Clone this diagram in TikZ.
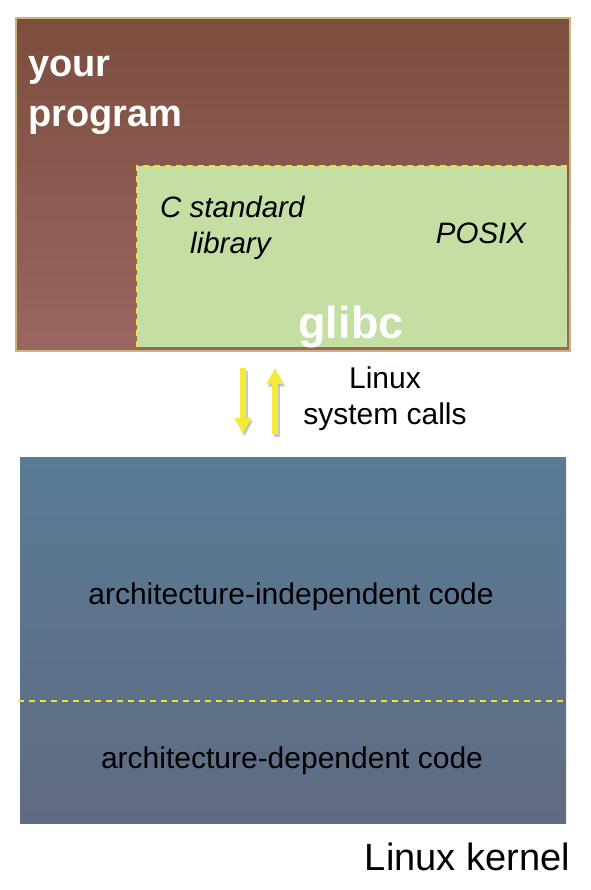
\documentclass[tikz,border=0pt]{standalone}
\usepackage{fontspec}
\setmainfont{Liberation Sans}
\usetikzlibrary{arrows.meta}
\definecolor{progtop}{HTML}{7C4E3E}
\definecolor{progbot}{HTML}{9A6661}
\definecolor{progedge}{HTML}{C9B67A}
\definecolor{glibcfill}{HTML}{C4DEA4}
\definecolor{kerntop}{HTML}{5A7B95}
\definecolor{kernbot}{HTML}{5F6B82}
\definecolor{dashyellow}{HTML}{F2E236}
\definecolor{arrowyellow}{HTML}{F4EA3A}
\begin{document}
\begin{tikzpicture}[x=1pt,y=-1pt,
  box/.style={anchor=north west,inner sep=0pt,outer sep=0pt},
  whitebold/.style={text=white,font=\bfseries\fontsize{38}{50}\selectfont,align=left,inner sep=0pt},
  itlabel/.style={font=\itshape\fontsize{29.5}{36}\selectfont,align=left,inner sep=0pt},
  plainlabel/.style={font=\fontsize{30}{36}\selectfont,align=center,inner sep=0pt},
  ydash/.style={draw=dashyellow,line width=2.8pt,dash pattern=on 6pt off 5pt},
  callarrow/.style={draw=arrowyellow,line width=6pt,-{Triangle[width=16pt,length=16pt]},arrowyellow},
  arrowshadow/.style={draw=black!70,line width=6pt,-{Triangle[width=16pt,length=16pt]},black!70,opacity=0.3}
]
\useasboundingbox (0,0) rectangle (590,890);
% your program box
\node[box,draw=progedge,line width=2pt,shading=axis,top color=progtop,bottom color=progbot,
  minimum width=554pt,minimum height=333pt] (prog) at (16,18) {};
% glibc box
\node[box,fill=glibcfill,minimum width=430pt,minimum height=181pt] (glibc) at (137,166) {};
\draw[ydash] (glibc.south west) -- (glibc.north west) -- (glibc.north east);
\node[whitebold,anchor=north west] (yp) at (28,56) {your\\program};
\node[itlabel,anchor=north west] (csl) at (160,196) {C standard\\\hspace*{30pt}library};
\node[itlabel] (posix) at (481,233) {POSIX};
\node[text=white,font=\bfseries\fontsize{45}{50}\selectfont,inner sep=0pt,anchor=base] (glibcname) at (351,338) {glibc};
% arrows
\coordinate (d1) at (243,368);
\coordinate (d2) at (243,434);
\coordinate (u1) at (275,434);
\coordinate (u2) at (275,368);
\draw[arrowshadow] ([shift={(1.5,2.5)}]d1) -- ([shift={(1.5,2.5)}]d2);
\draw[arrowshadow] ([shift={(1.5,2.5)}]u1) -- ([shift={(1.5,2.5)}]u2);
\draw[callarrow] (d1) -- (d2);
\draw[callarrow] (u1) -- (u2);
\node[plainlabel] (sys) at (385,399) {Linux\\system calls};
% kernel box
\node[box,shading=axis,top color=kerntop,bottom color=kernbot,
  minimum width=546pt,minimum height=366pt] (kern) at (20,457) {};
\coordinate (dl) at (18,701);
\coordinate (dr) at (567,701);
\draw[ydash] (dl) -- (dr);
\node[plainlabel] (indep) at (291,597) {architecture-independent code};
\node[plainlabel] (dep) at (292,761) {architecture-dependent code};
\node[font=\fontsize{38}{44}\selectfont,inner sep=0pt,anchor=east] (lk) at (570,857) {Linux kernel};
\end{tikzpicture}
\end{document}
